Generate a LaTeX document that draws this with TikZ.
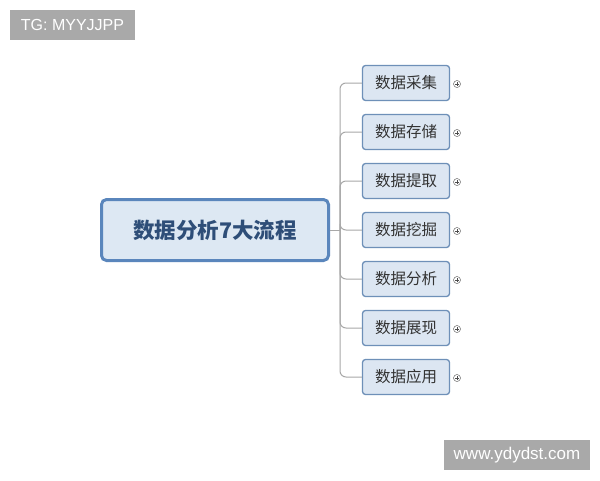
\documentclass[tikz,border=0pt]{standalone}
\usepackage{fontspec}
\setmainfont{Liberation Sans}
\newfontfamily\cjk{Noto Sans CJK SC}
\definecolor{rootfill}{HTML}{DDE8F3}
\definecolor{rootdraw}{HTML}{5A86BC}
\definecolor{roottext}{HTML}{2E4E78}
\definecolor{kidfill}{HTML}{DCE6F2}
\definecolor{kiddraw}{HTML}{6E90B8}
\definecolor{kidtext}{HTML}{333333}
\definecolor{linecol}{HTML}{A8A8A8}
\definecolor{tagfill}{HTML}{A9A9A9}
\tikzset{
  rootbox/.style={draw=rootdraw, fill=rootfill, line width=3pt, rounded corners=5pt,
    minimum width=227pt, minimum height=61pt, inner sep=0pt,
    font=\cjk\fontsize{21.5}{26}\selectfont\bfseries, text=roottext},
  kidbox/.style={draw=kiddraw, fill=kidfill, line width=1.3pt, rounded corners=3pt,
    minimum width=87pt, minimum height=35pt, inner sep=0pt,
    font=\cjk\fontsize{15.5}{18}\selectfont, text=kidtext},
  conn/.style={draw=linecol, line width=1pt, rounded corners=6pt},
  expander/.style={circle, draw=gray!80!black, line width=0.5pt, fill=white,
    minimum size=7pt, inner sep=0pt,
    path picture={\draw[line width=0.5pt, gray!60!black]
      ([xshift=-2pt]path picture bounding box.center) -- ([xshift=2pt]path picture bounding box.center)
      ([yshift=-2pt]path picture bounding box.center) -- ([yshift=2pt]path picture bounding box.center);}},
  tag/.style={fill=tagfill, text=white, inner sep=0pt}
}
\begin{document}
\begin{tikzpicture}[x=1pt,y=-1pt]
\useasboundingbox (0,0) rectangle (600,480);
\fill[white] (0,0) rectangle (600,480);
\node[tag, minimum width=125pt, minimum height=30pt, font=\fontsize{16}{19}\selectfont] (tg) at (72.5,25) {TG: MYYJJPP};
\node[tag, minimum width=146pt, minimum height=30pt, font=\fontsize{17}{20}\selectfont] (wm) at (517,455) {www.ydydst.com};
\node[rootbox] (root) at (215,230) {数据分析7大流程};
\coordinate (j) at (340,230);
\draw[conn] (root.east) -- (j);
\foreach \i/\t in {1/数据采集,2/数据存储,3/数据提取,4/数据挖掘,5/数据分析,6/数据展现,7/数据应用}{
  \node[kidbox] (k\i) at (406,{83+(\i-1)*49}) {\t};
  \node[expander] (e\i) at (457,{84+(\i-1)*49}) {};
  \draw[conn] (j) |- (k\i.west);
}
\end{tikzpicture}
\end{document}
